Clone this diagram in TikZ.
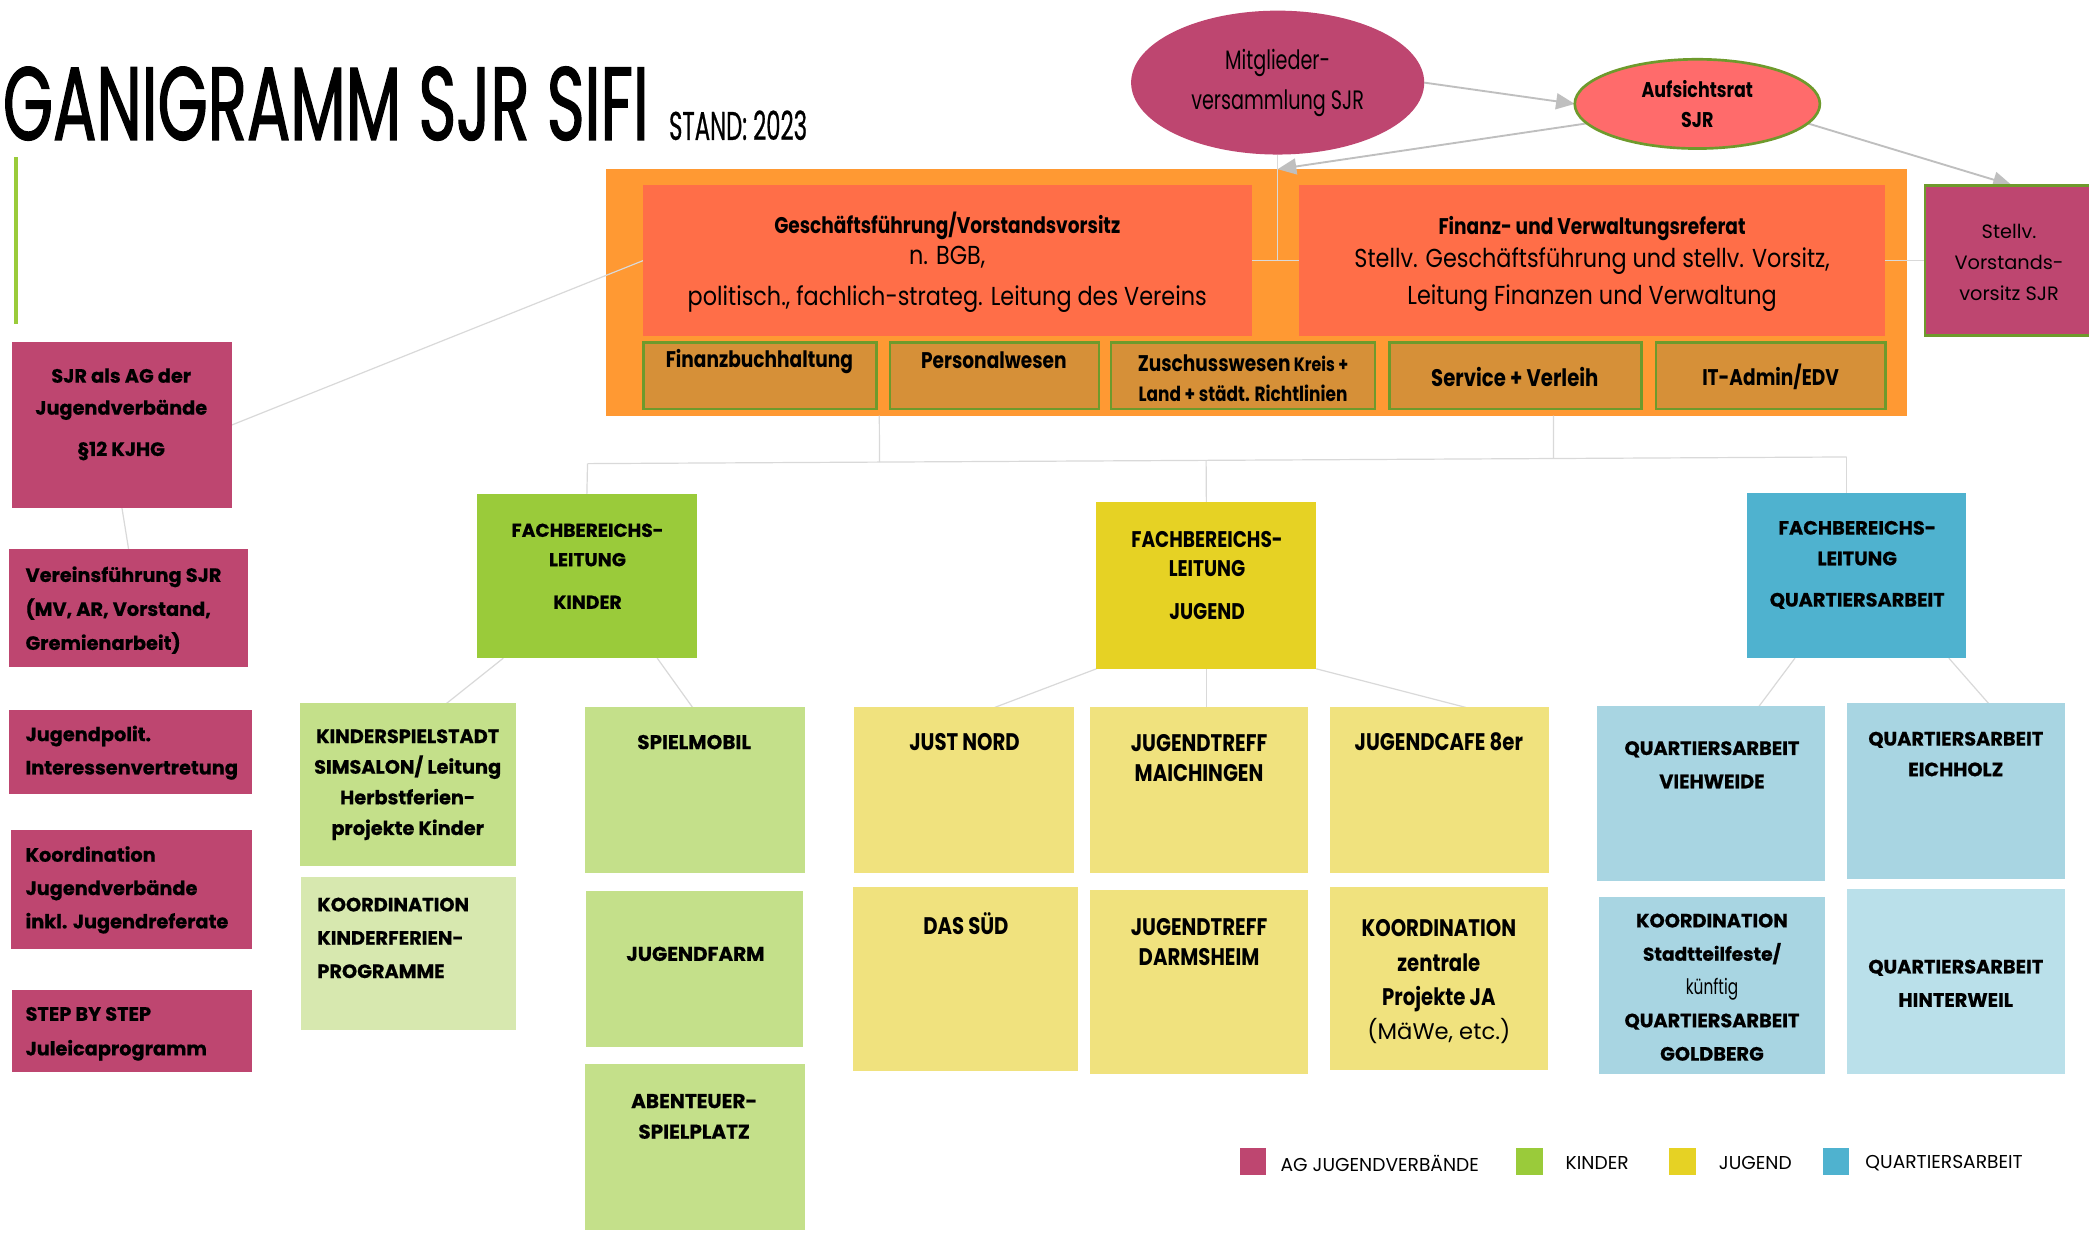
\documentclass[tikz,border=0pt]{standalone}
\usepackage{fontspec}
\setmainfont{Poppins}
\newfontfamily\geo[BoldFeatures={FakeBold=0.6}]{Poppins}
\newfontfamily\cond[FakeStretch=0.82]{Poppins}
\newfontfamily\condr[FakeStretch=0.86]{Poppins}
\newfontfamily\condm[FakeStretch=0.72]{Poppins}
\newfontfamily\ttlf[FakeStretch=0.62,FakeBold=1.2]{Poppins}
\newfontfamily\stdf[FakeStretch=0.57,FakeBold=0.6]{Poppins}
\usetikzlibrary{shapes.geometric,arrows.meta,fit,calc}
\pgfdeclarelayer{bg}
\pgfdeclarelayer{mid}
\pgfsetlayers{bg,mid,main}
\newcommand\fGB[2]{\geo\bfseries\fontsize{#1}{#2}\selectfont}
\newcommand\fGR[2]{\geo\mdseries\fontsize{#1}{#2}\selectfont}
\newcommand\fCB[2]{\cond\bfseries\fontsize{#1}{#2}\selectfont}
\newcommand\fCR[2]{\condr\mdseries\fontsize{#1}{#2}\selectfont}
\newcommand\fCM[2]{\condm\mdseries\fontsize{#1}{#2}\selectfont}
\definecolor{cMag}{HTML}{BE4670}
\definecolor{cAR}{HTML}{FF6B6B}
\definecolor{cOr}{HTML}{FF9933}
\definecolor{cRed}{HTML}{FF6E48}
\definecolor{cSub}{HTML}{D69038}
\definecolor{cGrn}{HTML}{6E9A2C}
\definecolor{cK}{HTML}{9ACB3A}
\definecolor{cKs}{HTML}{C4E08A}
\definecolor{cKl}{HTML}{D7E8AF}
\definecolor{cJ}{HTML}{E6D224}
\definecolor{cJs}{HTML}{F0E27E}
\definecolor{cQ}{HTML}{4FB2CF}
\definecolor{cQs}{HTML}{A8D5E2}
\definecolor{cQl}{HTML}{BAE0EA}
\definecolor{cArrow}{HTML}{BFBFBF}
\definecolor{cLine}{HTML}{D9D9D9}
\begin{document}
\begin{tikzpicture}[x=1pt,y=-1pt,
  bx/.style={inner sep=0pt,outer sep=0pt},
  subbox/.style={bx,fill=cSub,draw=cGrn,line width=2pt},
  conn/.style={draw=cLine,line width=0.9pt},
  arr/.style={draw=cArrow,line width=1.4pt,-{Triangle[length=14pt,width=12pt]}},
  tx/.style={inner sep=0pt,align=center,text=black},
  txl/.style={inner sep=0pt,align=left,text=black,anchor=west}]
\useasboundingbox (0,0) rectangle (1568,925);
\begin{pgfonlayer}{bg}
\fill[white] (0,0) rectangle (1568,925);
\node[bx,fill=cOr,fit={(455,127) (1431,312)}] (orange) {};
\end{pgfonlayer}

% title
\node[tx,font=\ttlf\fontsize{78}{78}\selectfont,anchor=base west] (title) at (2,105) {GANIGRAMM SJR SIFI};
\node[tx,font=\stdf\fontsize{30}{30}\selectfont,anchor=base west] (stand) at (502,105) {STAND: 2023};
\draw[cK,line width=2.5pt] (12,118) -- (12,243);

% ellipses
\node[ellipse,bx,fill=cMag,minimum width=220pt,minimum height=108pt,align=center,font=\fCM{20}{30}] (mv) at (959,62) {Mitglieder-\\versammlung SJR};
\node[ellipse,bx,fill=cAR,draw=cGrn,line width=2pt,minimum width=184pt,minimum height=67pt,align=center,font=\fCB{16}{23}] (ar) at (1274,78) {Aufsichtsrat\\SJR};

% leadership
\node[bx,fill=cRed,fit={(483,139) (940,252)}] (gf) {};
\node[bx,fill=cRed,fit={(975,139) (1415,252)}] (fv) {};
\node[tx,font=\fCR{19.5}{23}] at (711,197) {{\fCB{17}{23}Geschäftsführung/Vorstandsvorsitz}\\n. BGB,\\[8pt]politisch., fachlich-strateg. Leitung des Vereins};
\node[tx,font=\fCR{19.5}{25}] at (1195,198) {{\fCB{17}{25}Finanz- und Verwaltungsreferat}\\Stellv. Geschäftsführung und stellv. Vorsitz,\\[3pt]Leitung Finanzen und Verwaltung};

\node[subbox,fit={(483,257) (658,307)}] (fibu) {};
\node[subbox,fit={(668,257) (825,307)}] (pers) {};
\node[subbox,fit={(834,257) (1032,307)}] (zusch) {};
\node[subbox,fit={(1043,257) (1232,307)}] (serv) {};
\node[subbox,fit={(1243,257) (1415,307)}] (it) {};
\node[tx,font=\fCB{17}{23}] at (570,271) {Finanzbuchhaltung};
\node[tx,font=\fCB{17}{23}] at (746,270) {Personalwesen};
\node[tx,font=\fCB{14.5}{23}] at (933,284) {{\fCB{17}{23}Zuschusswesen} Kreis +\\{\fCB{15.5}{23}Land + städt. Richtlinien}};
\node[tx,font=\fCB{18}{23}] at (1137,283) {Service + Verleih};
\node[tx,font=\fCB{17}{23}] at (1329,283) {IT-Admin/EDV};

\node[bx,fill=cMag,draw=cGrn,line width=2pt,fit={(1445,139) (1575,252)}] (stellv) {};
\node[tx,font=\fGR{14.5}{23}] at (1508,197) {Stellv.\\Vorstands-\\vorsitz SJR};

% left column
\node[bx,fill=cMag,fit={(9,257) (174,381)}] (sjr) {};
\node[tx,font=\fGB{14.5}{24}] at (91,311) {SJR als AG der\\Jugendverbände\\[7pt]§12 KJHG};
\node[bx,fill=cMag,fit={(7,412) (186,501)}] (verein) {};
\node[txl,font=\fGB{14.5}{25.5}] at (19,458) {Vereinsführung SJR\\(MV, AR, Vorstand,\\Gremienarbeit)};
\node[bx,fill=cMag,fit={(7,533) (189,596)}] (jpol) {};
\node[txl,font=\fGB{14.5}{25}] at (19,565) {Jugendpolit.\\Interessenvertretung};
\node[bx,fill=cMag,fit={(8,623) (189,712)}] (kjv) {};
\node[txl,font=\fGB{14.5}{25}] at (19,668) {Koordination\\Jugendverbände\\inkl. Jugendreferate};
\node[bx,fill=cMag,fit={(9,743) (189,805)}] (step) {};
\node[txl,font=\fGB{14.5}{26}] at (19,776) {STEP BY STEP\\Juleicaprogramm};

% Fachbereiche
\node[bx,fill=cK,fit={(358,371) (523,494)}] (fbk) {};
\node[tx,font=\fGB{14}{22}] at (441,425) {FACHBEREICHS-\\LEITUNG\\[10pt]KINDER};
\node[bx,fill=cJ,fit={(823,377) (988,502)}] (fbj) {};
\node[tx,font=\fCB{17}{22}] at (906,432) {FACHBEREICHS-\\LEITUNG\\[10pt]JUGEND};
\node[bx,fill=cQ,fit={(1311,370) (1476,494)}] (fbq) {};
\node[tx,font=\fGB{14.5}{23}] at (1394,424) {FACHBEREICHS-\\LEITUNG\\[8pt]QUARTIERSARBEIT};

% Kinder
\node[bx,fill=cKs,fit={(225,528) (387,650)}] (ksp) {};
\node[tx,font=\fGB{14.5}{23}] at (306,589) {KINDERSPIELSTADT\\SIMSALON/ Leitung\\Herbstferien-\\projekte Kinder};
\node[bx,fill=cKl,fit={(226,658) (387,773)}] (kkf) {};
\node[txl,font=\fGB{14.5}{25}] at (238,704) {KOORDINATION\\KINDERFERIEN-\\PROGRAMME};
\node[bx,fill=cKs,fit={(439,531) (604,655)}] (spm) {};
\node[tx,font=\fGB{15}{23}] at (521,557) {SPIELMOBIL};
\node[bx,fill=cKs,fit={(440,669) (603,786)}] (jfarm) {};
\node[tx,font=\fGB{15}{23}] at (522,716) {JUGENDFARM};
\node[bx,fill=cKs,fit={(439,799) (604,923)}] (abt) {};
\node[tx,font=\fGB{15}{23}] at (521,838) {ABENTEUER-\\SPIELPLATZ};

% Jugend
\node[bx,fill=cJs,fit={(641,531) (806,655)}] (jn) {};
\node[tx,font=\fCB{18}{23}] at (724,557) {JUST NORD};
\node[bx,fill=cJs,fit={(818,531) (982,655)}] (jtm) {};
\node[tx,font=\fCB{18}{23}] at (900,569) {JUGENDTREFF\\MAICHINGEN};
\node[bx,fill=cJs,fit={(998,531) (1163,655)}] (jc) {};
\node[tx,font=\fCB{18}{23}] at (1080,557) {JUGENDCAFE 8er};
\node[bx,fill=cJs,fit={(640,666) (809,804)}] (ds) {};
\node[tx,font=\fCB{18}{23}] at (725,693) {DAS SÜD};
\node[bx,fill=cJs,fit={(818,668) (982,806)}] (jtd) {};
\node[tx,font=\fCB{18}{23}] at (900,707) {JUGENDTREFF\\DARMSHEIM};
\node[bx,fill=cJs,fit={(998,666) (1162,803)}] (kzp) {};
\node[tx,font=\fCB{18}{25.7}] at (1080,737) {KOORDINATION\\zentrale\\Projekte JA\\{\geo\mdseries\fontsize{17}{25.7}\selectfont(MäWe, etc.)}};

% Quartier
\node[bx,fill=cQs,fit={(1199,530) (1370,661)}] (qv) {};
\node[tx,font=\fGB{14.5}{25}] at (1285,574) {QUARTIERSARBEIT\\VIEHWEIDE};
\node[bx,fill=cQs,fit={(1386,528) (1550,660)}] (qe) {};
\node[tx,font=\fGB{14.5}{23}] at (1468,566) {QUARTIERSARBEIT\\EICHHOLZ};
\node[bx,fill=cQs,fit={(1200,673) (1370,806)}] (qg) {};
\node[tx,font=\fGB{14.5}{25}] at (1285,741) {KOORDINATION\\{\fGB{14}{25}Stadtteilfeste/}\\{\fCM{16}{25}künftig}\\QUARTIERSARBEIT\\GOLDBERG};
\node[bx,fill=cQl,fit={(1386,667) (1550,806)}] (qh) {};
\node[tx,font=\fGB{14.5}{25}] at (1468,738) {QUARTIERSARBEIT\\HINTERWEIL};

% legend
\node[bx,fill=cMag,minimum size=20pt] (lg1) at (940.5,872) {};
\node[txl,font=\fGR{14}{15}] (lt1) at (961,873) {AG JUGENDVERBÄNDE};
\node[bx,fill=cK,minimum size=20pt] (lg2) at (1148,872) {};
\node[txl,font=\fGR{14}{15}] (lt2) at (1175,873) {KINDER};
\node[bx,fill=cJ,minimum size=20pt] (lg3) at (1263,872) {};
\node[txl,font=\fGR{14}{15}] (lt3) at (1290,873) {JUGEND};
\node[bx,fill=cQ,minimum size=20pt] (lg4) at (1378,872) {};
\node[txl,font=\fGR{14}{15}] (lt4) at (1400,873) {QUARTIERSARBEIT};

% connectors
\begin{pgfonlayer}{mid}
\draw[arr] (mv.east) -- (ar.west);
\draw[arr] (ar.190) -- (orange.north -| mv.south);
\draw[arr] (ar.-10) -- (stellv.north);
\draw[conn] (mv.south) -- (mv.south |- gf.east);
\draw[conn] (gf.east) -- (fv.west);
\draw[conn] (fv.east) -- (stellv.west);
\draw[conn] (sjr.east) -- (gf.west);
\draw[conn] (sjr.south) -- (verein.north);
\coordinate (jL) at (441,348);
\coordinate (jR) at (1386,343);
\coordinate (o1) at (orange.south -| 660,0);
\coordinate (o2) at (orange.south -| 1166,0);
\draw[conn] (jL) -- (jR);
\draw[conn] (o1) -- ($(jL)!(o1)!(jR)$);
\draw[conn] (o2) -- ($(jL)!(o2)!(jR)$);
\draw[conn] (jL) -- (fbk.north);
\draw[conn] ($(jL)!(fbj.north)!(jR)$) -- (fbj.north);
\draw[conn] (jR) -- (jR |- fbq.north);
\draw[conn] ($(fbk.south west)!0.12!(fbk.south east)$) -- ($(ksp.north west)!0.68!(ksp.north east)$);
\draw[conn] ($(fbk.south west)!0.82!(fbk.south east)$) -- ($(spm.north west)!0.49!(spm.north east)$);
\draw[conn] (fbj.south west) -- ($(jn.north west)!0.64!(jn.north east)$);
\draw[conn] (fbj.south) -- (fbj.south |- jtm.north);
\draw[conn] (fbj.south east) -- ($(jc.north west)!0.62!(jc.north east)$);
\draw[conn] ($(fbq.south west)!0.22!(fbq.south east)$) -- ($(qv.north west)!0.71!(qv.north east)$);
\draw[conn] ($(fbq.south west)!0.92!(fbq.south east)$) -- ($(qe.north west)!0.65!(qe.north east)$);
\end{pgfonlayer}
\end{tikzpicture}
\end{document}
